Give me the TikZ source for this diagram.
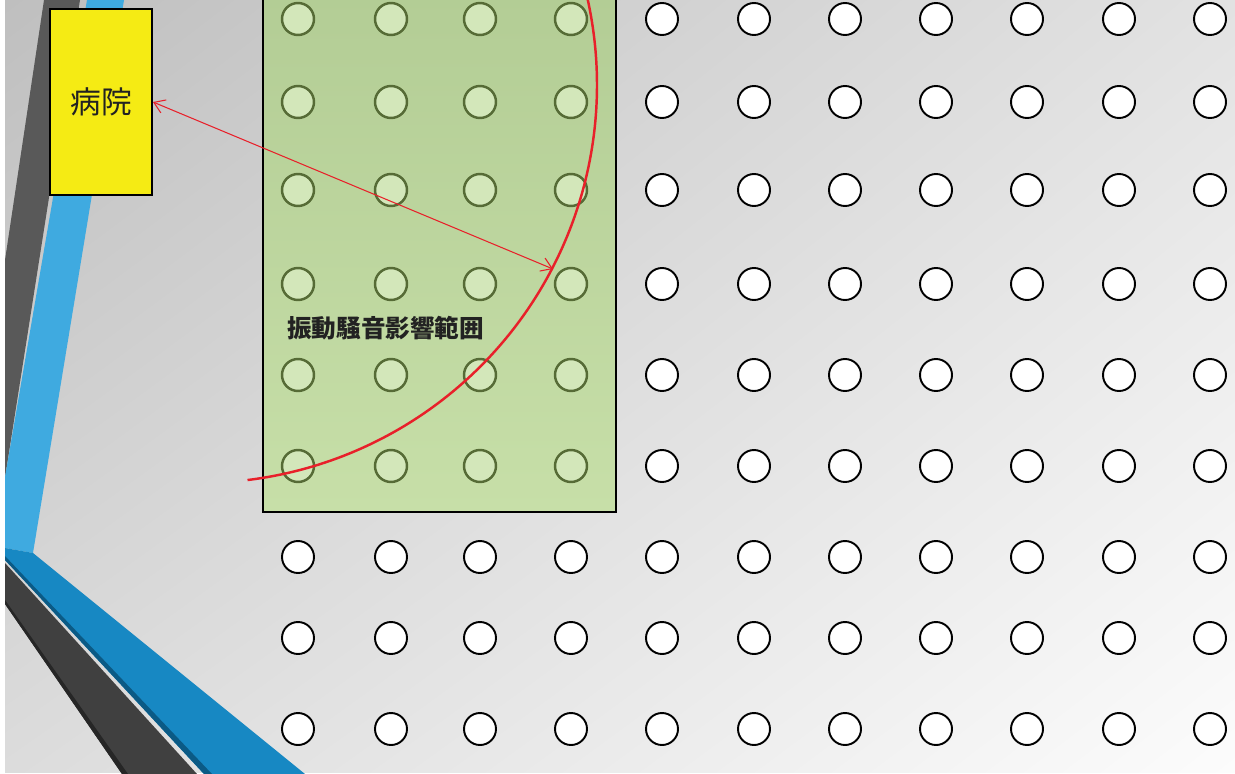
\documentclass[tikz,border=0pt]{standalone}
\usepackage{fontspec}
\newfontfamily\jpfont{Noto Sans CJK JP}
\usetikzlibrary{arrows.meta,shadings}
\definecolor{bgtl}{HTML}{BFBFBF}
\definecolor{bgtr}{HTML}{E2E2E2}
\definecolor{bgbl}{HTML}{DCDCDC}
\definecolor{bgbr}{HTML}{FCFCFC}
\definecolor{darkband}{HTML}{595959}
\definecolor{lowband}{HTML}{404040}
\definecolor{skyband}{HTML}{3FAAE0}
\definecolor{seaband}{HTML}{1788C3}
\definecolor{deepband}{HTML}{0B5A85}
\definecolor{zonetop}{HTML}{B3CD95}
\definecolor{zonebot}{HTML}{C7DFA8}
\definecolor{holefill}{HTML}{D3E7BA}
\definecolor{holeline}{HTML}{566B36}
\definecolor{hospyellow}{HTML}{F5EB14}
\definecolor{riskred}{HTML}{E8202A}
\definecolor{textdark}{HTML}{222222}

\begin{document}
\begin{tikzpicture}[x=0.02cm,y=-0.02cm,
    hole/.style={draw=black,fill=white,line width=1.1pt},
    greenhole/.style={draw=holeline,fill=holefill,line width=1.4pt},
    risk/.style={draw=riskred,line width=1.4pt},
    reachline/.style={draw=riskred,line width=0.6pt,
      {Straight Barb[length=6pt,width=8pt]}-{Straight Barb[length=6pt,width=8pt]}}]
  \useasboundingbox (0,0) rectangle (1235,774);
  \fill[white] (0,0) rectangle (1235,774);
  \shade[upper left=bgtl,upper right=bgtr,lower left=bgbl,lower right=bgbr]
    (5,0) rectangle (1235,772);
  % stripes on the left
  \fill[darkband] (44,0) -- (80,0) -- (5,478) -- (5,260) -- cycle;
  \fill[skyband] (87,0) -- (124,0) -- (33,553) -- (5,548) -- (5,477) -- cycle;
  \fill[seaband] (5,548) -- (33,553) -- (305,774) -- (204,774) -- (5,560) -- cycle;
  \fill[deepband] (5,560) -- (204,774) -- (212,774) -- (5,556) -- cycle;
  \fill[lowband] (5,563) -- (197,774) -- (122,774) -- (5,604) -- cycle;
  \fill[black!85] (5,604) -- (122,774) -- (128,774) -- (5,600) -- cycle;
  % vibration zone
  \shade[top color=zonetop,bottom color=zonebot] (263,-5) rectangle (616,512);
  \draw[line width=1.1pt] (263,-5) rectangle (616,512);
  \foreach \cx in {298,391,480,571} \foreach \cy in {19,102,190,284,375,466}
    \draw[greenhole] (\cx,\cy) circle (16);
  \foreach \cx in {298,391,480,571} \foreach \cy in {557,638,729}
    \draw[hole] (\cx,\cy) circle (16);
  \foreach \cx in {662,754,845,936,1027,1119,1210}
    \foreach \cy in {19,102,190,284,375,466,557,638,729}
      \draw[hole] (\cx,\cy) circle (16);
  \node[font=\jpfont\bfseries\fontsize{14}{16}\selectfont,text=textdark,
    anchor=west,inner sep=0pt] (zone) at (287,328) {振動騒音影響範囲};
  % hospital and reach
  \node[draw=black,fill=hospyellow,line width=1.1pt,minimum width=2.04cm,
    minimum height=3.72cm,inner sep=0pt,text=textdark,
    font=\jpfont\fontsize{17.5}{20}\selectfont] (hosp) at (101,102) {病院};
  \coordinate (src) at (199,85);
  \coordinate (reach) at (553,269);
  \draw[risk] (src) ++(83:398) arc[start angle=83,end angle=-13,radius=398];
  \draw[reachline] (hosp.east) -- (reach);
\end{tikzpicture}
\end{document}
